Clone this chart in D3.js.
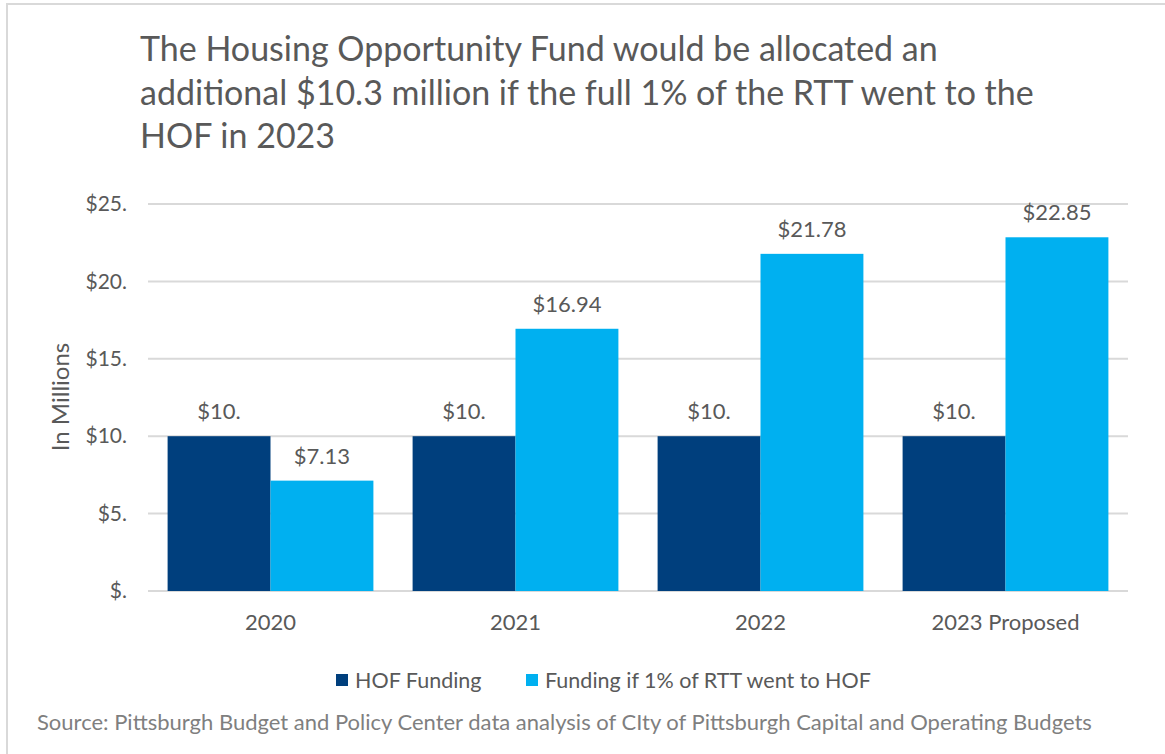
<!DOCTYPE html>
<html>
<head>
<meta charset="utf-8">
<script src="https://cdn.jsdelivr.net/npm/d3@7"></script>
<style>
  body { margin: 0; background: #fff; }
  text { font-family: Lato, "Open Sans", sans-serif; }
</style>
</head>
<body>
<div id="chart"></div>
<script>
var categories = ["2020", "2021", "2022", "2023 Proposed"];
var seriesNames = ["HOF Funding", "Funding if 1% of RTT went to HOF"];
var hofFunding = [10, 10, 10, 10];
var rttFunding = [7.13, 16.94, 21.78, 22.85];
var yTicks = [0, 5, 10, 15, 20, 25];
var titleLines = [
  "The Housing Opportunity Fund would be allocated an",
  "additional $10.3 million if the full 1% of the RTT went to the",
  "HOF in 2023"
];
var sourceText = "Source: Pittsburgh Budget and Policy Center data analysis of CIty of Pittsburgh Capital and Operating Budgets";

var colors = ["#003f7d", "#00b0f0"];
var W = 1165, H = 754;

// excel style "$#.##" format: 10 -> "$10.", 0 -> "$."
function money(v) {
  var s = (Math.round(v * 100) / 100).toString();
  var parts = s.split(".");
  var intPart = parts[0] === "0" ? "" : parts[0];
  return "$" + intPart + "." + (parts[1] || "");
}

var rows = categories.map(function(c, i) {
  return {cat: c, values: [hofFunding[i], rttFunding[i]]};
});

var svg = d3.select("#chart").append("svg")
  .attr("width", W)
  .attr("height", H);

// frame (only left and top edge visible in the crop)
svg.append("rect")
  .attr("x", 7).attr("y", 4)
  .attr("width", W + 20).attr("height", H + 20)
  .attr("fill", "none")
  .attr("stroke", "#d9d9d9")
  .attr("stroke-width", 2);

svg.append("g").selectAll("text")
  .data(titleLines)
  .enter().append("text")
    .attr("x", 140)
    .attr("y", function(d, i) { return 61 + i * 43.5; })
    .attr("fill", "#595959")
    .style("font-size", "34px")
    .text(function(d) { return d; });

var x0 = d3.scaleBand().domain(categories).range([148, 1128]).paddingInner(0.16).paddingOuter(0.08);
var x1 = d3.scaleBand().domain([0, 1]).range([0, x0.bandwidth()]);
var y = d3.scaleLinear().domain([0, 25]).range([591, 204]);

// gridlines
svg.append("g").selectAll("line")
  .data(yTicks)
  .enter().append("line")
    .attr("x1", 148).attr("x2", 1128)
    .attr("y1", function(d) { return y(d); })
    .attr("y2", function(d) { return y(d); })
    .attr("stroke", "#d9d9d9")
    .attr("stroke-width", 2);

var yAxis = svg.append("g")
  .attr("transform", "translate(136,0)")
  .call(d3.axisLeft(y).tickValues(yTicks).tickFormat(money).tickSize(0).tickPadding(9));
yAxis.select(".domain").remove();
yAxis.selectAll("text")
  .attr("fill", "#595959")
  .style("font-size", "21px")
  .style("font-family", "Lato, sans-serif");

svg.append("text")
  .attr("transform", "translate(69,397) rotate(-90)")
  .attr("text-anchor", "middle")
  .attr("fill", "#595959")
  .style("font-size", "24px")
  .text("In Millions");

var groups = svg.append("g").selectAll("g")
  .data(rows)
  .enter().append("g")
    .attr("transform", function(d) { return "translate(" + x0(d.cat) + ",0)"; });

groups.selectAll("rect")
  .data(function(d) { return d.values; })
  .enter().append("rect")
    .attr("x", function(d, i) { return x1(i); })
    .attr("y", function(d) { return y(d); })
    .attr("width", x1.bandwidth())
    .attr("height", function(d) { return y(0) - y(d); })
    .attr("fill", function(d, i) { return colors[i]; });

groups.selectAll("text.val")
  .data(function(d) { return d.values; })
  .enter().append("text")
    .attr("class", "val")
    .attr("x", function(d, i) { return x1(i) + x1.bandwidth() / 2; })
    .attr("y", function(d) { return y(d) - 17; })
    .attr("text-anchor", "middle")
    .attr("fill", "#595959")
    .style("font-size", "22px")
    .text(function(d) { return money(d); });

// category labels
svg.append("g").selectAll("text")
  .data(categories)
  .enter().append("text")
    .attr("x", function(d) { return x0(d) + x0.bandwidth() / 2; })
    .attr("y", 630)
    .attr("text-anchor", "middle")
    .attr("fill", "#595959")
    .style("font-size", "22px")
    .text(function(d) { return d; });

// legend
var legendX = [336, 526];
var legend = svg.append("g").selectAll("g")
  .data(seriesNames)
  .enter().append("g")
    .attr("transform", function(d, i) { return "translate(" + legendX[i] + ",0)"; });
legend.append("rect")
  .attr("x", 0).attr("y", 674)
  .attr("width", 12).attr("height", 12)
  .attr("fill", function(d, i) { return colors[i]; });
legend.append("text")
  .attr("x", 19).attr("y", 688)
  .attr("fill", "#595959")
  .style("font-size", "21.5px")
  .text(function(d) { return d; });

svg.append("text")
  .attr("x", 37).attr("y", 730)
  .attr("fill", "#7f7f7f")
  .style("font-size", "22px")
  .text(sourceText);
</script>
</body>
</html>
